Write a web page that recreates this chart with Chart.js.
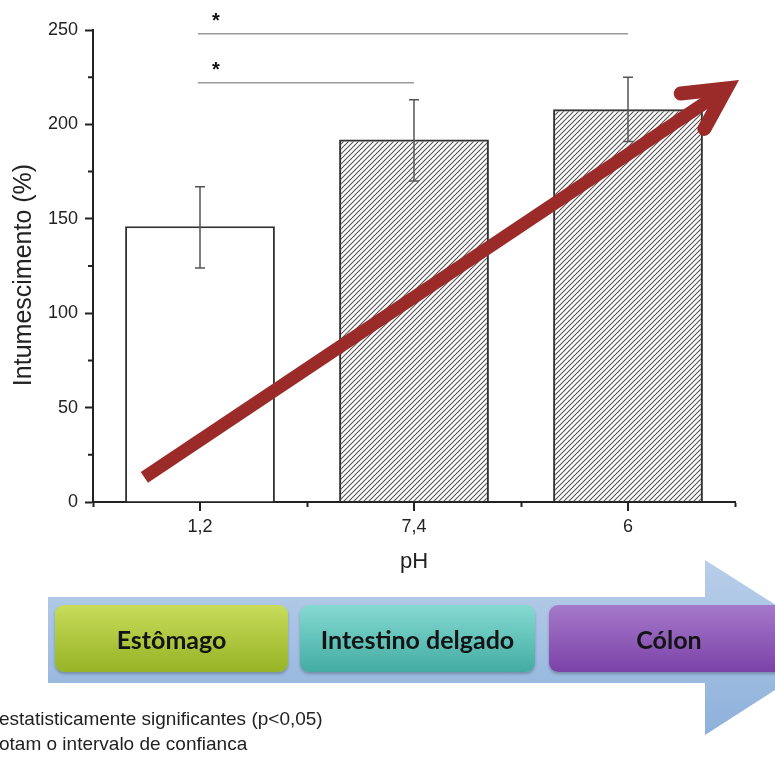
<!DOCTYPE html>
<html>
<head>
<meta charset="utf-8">
<script src="https://cdn.jsdelivr.net/npm/chart.js@4.4.1/dist/chart.umd.min.js"></script>
<style>
  body { margin: 0; background: #fff; }
  #page { position: relative; width: 775px; height: 758px; overflow: hidden; }
  #chartBox { position: absolute; left: 0; top: 0; width: 775px; height: 600px; }
  .blue { position: absolute; left: 48px; top: 560px; width: 800px; height: 175px;
    background: linear-gradient(#b9cfe9, #8db0db);
    clip-path: polygon(0 37px, 657px 37px, 657px 0, 794px 87px, 657px 175px, 657px 123px, 0 123px); }
  .stage { position: absolute; top: 605px; height: 67px; border-radius: 9px;
    font: bold 25px Lato, "Open Sans", sans-serif; color: #141414;
    display: flex; align-items: center; justify-content: center;
    box-shadow: 0 2px 3px rgba(0,0,0,0.25); }
  .note { position: absolute; left: -1px; font: 19px "Liberation Sans", Arial, sans-serif; color: #222; white-space: nowrap; }
</style>
</head>
<body>
<div id="page">
  <div id="chartBox"><canvas id="swell"></canvas></div>
  <div class="blue"></div>
  <div id="stages"></div>
  <div id="notes"></div>
</div>
<script>
// data
const phLabels = ['1,2', '7,4', '6'];
const swelling = [146, 192, 208];
const errLow = [124, 170, 191];
const errHigh = [167, 213, 225];
const sigPairs = [[0, 2], [0, 1]];
const sigLevels = [248, 222];
const trendFrom = [-0.26, 13];
const trendTo = [2.46, 219];
const minorTicks = [25, 75, 125, 175, 225];
const stages = ['Estômago', 'Intestino delgado', 'Cólon'];
const notes = ['estatisticamente significantes (p<0,05)', 'otam o intervalo de confianca'];

//------------------------------------------

// bottom flow boxes + notes
const stageStyle = [
  {left: 55, width: 233, bg: 'linear-gradient(#c8dc5a, #96b325)'},
  {left: 300, width: 235, bg: 'linear-gradient(#84dad1, #43aca3)'},
  {left: 549, width: 240, bg: 'linear-gradient(#a579ca, #7b42a7)'}
];
stages.forEach((s, i) => {
  const d = document.createElement('div');
  d.className = 'stage';
  d.style.left = stageStyle[i].left + 'px';
  d.style.width = stageStyle[i].width + 'px';
  d.style.background = stageStyle[i].bg;
  d.textContent = s;
  document.getElementById('stages').appendChild(d);
});
notes.forEach((n, i) => {
  const d = document.createElement('div');
  d.className = 'note';
  d.style.top = (708 + i * 25) + 'px';
  d.textContent = n;
  document.getElementById('notes').appendChild(d);
});

//------------------------------------------

// hatch fill
function hatch() {
  const c = document.createElement('canvas');
  c.width = c.height = 5;
  const g = c.getContext('2d');
  g.strokeStyle = '#555';
  g.lineWidth = 1.1;
  g.beginPath();
  g.moveTo(0, 5); g.lineTo(5, 0);
  g.moveTo(-1, 1); g.lineTo(1, -1);
  g.moveTo(4, 6); g.lineTo(6, 4);
  g.stroke();
  return g.createPattern(c, 'repeat');
}
const hatchFill = hatch();

//------------------------------------------

// extras: error bars, minor ticks, significance lines, trend arrow, y title
const extras = {
  id: 'extras',
  afterDatasetsDraw(chart) {
    const {ctx, scales: {x, y}} = chart;
    ctx.save();

    // error bars
    ctx.strokeStyle = '#555';
    ctx.lineWidth = 1.5;
    swelling.forEach((v, i) => {
      const px = x.getPixelForValue(i);
      const y1 = y.getPixelForValue(errHigh[i]);
      const y2 = y.getPixelForValue(errLow[i]);
      ctx.beginPath();
      ctx.moveTo(px, y1); ctx.lineTo(px, y2);
      ctx.moveTo(px - 5, y1); ctx.lineTo(px + 5, y1);
      ctx.moveTo(px - 5, y2); ctx.lineTo(px + 5, y2);
      ctx.stroke();
    });

    // minor ticks
    ctx.strokeStyle = '#222';
    ctx.lineWidth = 2;
    ctx.beginPath();
    minorTicks.forEach(v => {
      const py = y.getPixelForValue(v);
      ctx.moveTo(x.left - 5, py); ctx.lineTo(x.left, py);
    });
    phLabels.forEach((l, i) => {
      const px = x.getPixelForValue(i);
      ctx.moveTo(px, y.bottom); ctx.lineTo(px, y.bottom + 9);
    });
    ctx.stroke();

    // significance
    ctx.strokeStyle = '#999';
    ctx.lineWidth = 1.5;
    ctx.fillStyle = '#111';
    ctx.font = 'bold 20px "Liberation Sans", Arial';
    ctx.textAlign = 'center';
    ctx.textBaseline = 'middle';
    sigPairs.forEach((p, k) => {
      const py = y.getPixelForValue(sigLevels[k]);
      const xa = x.getPixelForValue(p[0]);
      const xb = x.getPixelForValue(p[1]);
      ctx.beginPath();
      ctx.moveTo(xa - 2, py); ctx.lineTo(xb, py);
      ctx.stroke();
      ctx.fillText('*', xa + 16, py - 12);
    });

    // trend arrow
    const ax = x.getPixelForValue(trendFrom[0]), ay = y.getPixelForValue(trendFrom[1]);
    const bx = x.getPixelForValue(trendTo[0]), by = y.getPixelForValue(trendTo[1]);
    const ang = Math.atan2(by - ay, bx - ax);
    ctx.strokeStyle = '#9b2b29';
    ctx.lineWidth = 13;
    ctx.lineCap = 'butt';
    ctx.beginPath();
    ctx.moveTo(ax, ay);
    ctx.lineTo(bx - 6 * Math.cos(ang), by - 6 * Math.sin(ang));
    ctx.stroke();
    const head = 46, spread = 0.48;
    ctx.lineWidth = 14;
    ctx.lineCap = 'round';
    ctx.lineJoin = 'miter';
    ctx.beginPath();
    ctx.moveTo(bx - head * Math.cos(ang - spread), by - head * Math.sin(ang - spread));
    ctx.lineTo(bx, by);
    ctx.lineTo(bx - head * Math.cos(ang + spread), by - head * Math.sin(ang + spread));
    ctx.stroke();

    // y title
    ctx.fillStyle = '#222';
    ctx.font = '25px "Liberation Sans", Arial';
    ctx.translate(24, 275);
    ctx.rotate(-Math.PI / 2);
    ctx.fillText('Intumescimento (%)', 0, 0);
    ctx.restore();
  }
};

//------------------------------------------

const config = {
  type: 'bar',
  data: {
    labels: phLabels,
    datasets: [{
      data: swelling,
      backgroundColor: ['#ffffff', hatchFill, hatchFill],
      borderColor: '#333',
      borderWidth: 2,
      barPercentage: 0.70,
      categoryPercentage: 1.0
    }]
  },
  options: {
    responsive: true,
    maintainAspectRatio: false,
    animation: false,
    layout: {padding: {top: 30, right: 40, left: 0, bottom: 23}},
    plugins: {legend: {display: false}, tooltip: {enabled: false}},
    scales: {
      x: {
        offset: true,
        border: {color: '#222', width: 2},
        grid: {drawOnChartArea: false, offset: true, tickLength: 5, tickColor: '#222', tickWidth: 2},
        ticks: {color: '#222', padding: 9, font: {size: 18, family: '"Liberation Sans", Arial'}},
        title: {display: true, text: 'pH', color: '#222', padding: {top: 0, bottom: 2}, font: {size: 22, family: '"Liberation Sans", Arial'}},
        afterFit(s) { s.height = 75; }
      },
      y: {
        min: 0, max: 250,
        border: {color: '#222', width: 2},
        grid: {drawOnChartArea: false, tickLength: 8, tickColor: '#222', tickWidth: 2},
        ticks: {stepSize: 50, color: '#222', padding: 7, font: {size: 18, family: '"Liberation Sans", Arial'}},
        afterFit(s) { s.width = 93; }
      }
    }
  },
  plugins: [extras]
};

//------------------------------------------

const chart = new Chart(document.getElementById('swell'), config);
</script>
</body>
</html>
